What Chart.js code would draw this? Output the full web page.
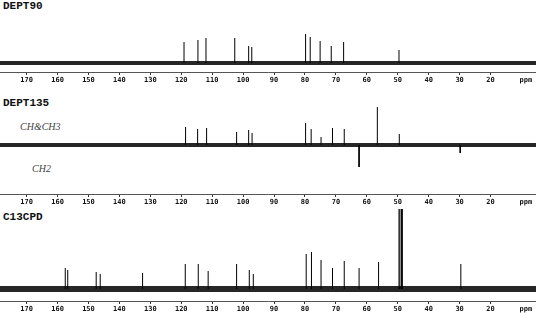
<!DOCTYPE html>
<html>
<head>
<meta charset="utf-8">
<script src="https://cdn.jsdelivr.net/npm/chart.js@4"></script>
<style>
  body { margin: 0; width: 536px; height: 315px; overflow: hidden; background: #fff; position: relative; }
  canvas { position: absolute; left: 0; }
  .title { position: absolute; left: 3px; font: bold 11px/11px "Liberation Mono", monospace; color: #111; }
  .lab { position: absolute; font: italic 10px/10px "Liberation Serif", serif; color: #444; }
</style>
</head>
<body>
<div class="title" style="top:1px">DEPT90</div>
<div class="title" style="top:98px">DEPT135</div>
<div class="lab" style="left:20px;top:122px">CH&amp;CH3</div>
<div class="lab" style="left:32px;top:164px">CH2</div>
<div class="title" style="top:212px">C13CPD</div>

<canvas id="c1" width="536" height="88" style="top:0px"></canvas>
<canvas id="c2" width="536" height="120" style="top:90px"></canvas>
<canvas id="c3" width="536" height="112" style="top:205px"></canvas>

<script>
// chemical shift (ppm) and peak height
const dept90Shift = [119.1, 114.6, 112.0, 102.7, 98.2, 97.2, 79.8, 78.3, 75.1, 71.5, 67.5, 49.6];
const dept90Height = [21, 23, 25, 25, 17, 16, 29, 26, 22, 17, 21, 13];

const dept135Shift = [118.6, 114.7, 111.8, 102.1, 98.2, 97.1, 79.8, 78.0, 74.8, 71.1, 67.3, 62.5, 56.6, 49.5, 29.8];
const dept135Height = [18, 16, 17, 13, 15, 12, 22, 16, 8, 17, 16, -22, 38, 11, -8];

const cpdShift = [157.5, 156.7, 147.5, 146.2, 132.5, 118.7, 114.5, 111.3, 102.1, 98.0, 96.7,
                  79.6, 77.9, 74.8, 71.1, 67.3, 62.5, 56.2, 49.6, 49.3, 48.8, 48.5, 29.6];
const cpdHeight = [21, 19, 17, 15, 16, 25, 25, 18, 25, 19, 15,
                   35, 37, 29, 21, 28, 21, 27, 80, 80, 80, 80, 25];

const tickValues = [170, 160, 150, 140, 130, 120, 110, 100, 90, 80, 70, 60, 50, 40, 30, 20];
const ppmTick = 8.6;   // where the "ppm" unit label sits
const xMax = 178.6;
const xMin = 5.3;

function spectrum(id, shifts, heights, yMin, yMax, band) {
    const spikes = [];
    shifts.forEach((s, i) => {
        spikes.push({ x: s, y: 0 }, { x: s, y: heights[i] }, { x: s, y: null });
    });

    new Chart(document.getElementById(id), {
        type: "line",
        data: {
            datasets: [
                { data: spikes, borderColor: "#000", borderWidth: 1, pointRadius: 0, spanGaps: false },
                { data: [{ x: xMax, y: 0 }, { x: xMin, y: 0 }], borderColor: "#262626", borderWidth: band, pointRadius: 0 }
            ]
        },
        options: {
            responsive: false,
            animation: false,
            layout: { padding: 0 },
            plugins: { legend: { display: false }, tooltip: { enabled: false } },
            scales: {
                x: {
                    type: "linear",
                    reverse: true,
                    min: xMin,
                    max: xMax,
                    afterBuildTicks: axis => {
                        axis.ticks = tickValues.concat([ppmTick]).map(v => ({ value: v }));
                    },
                    afterFit: axis => {
                        axis.height = 16;
                        axis.paddingLeft = 0;
                        axis.paddingRight = 0;
                    },
                    ticks: {
                        autoSkip: false,
                        maxRotation: 0,
                        padding: 1,
                        color: "#111",
                        font: { family: "DejaVu Sans Mono", size: 7, weight: "bold" },
                        callback: v => (v < 10 ? "ppm" : v)
                    },
                    grid: {
                        drawOnChartArea: false,
                        tickLength: 3,
                        tickColor: c => (c.tick && c.tick.value < 10 ? "rgba(0,0,0,0)" : "#333")
                    },
                    border: { color: "#555", width: 1, dash: [2, 1] }
                },
                y: { display: false, min: yMin, max: yMax }
            }
        }
    });
}

spectrum("c1", dept90Shift, dept90Height, -9, 63, 4);
spectrum("c2", dept135Shift, dept135Height, -49, 55, 4);
spectrum("c3", cpdShift, cpdHeight, -12, 84, 6);
</script>
</body>
</html>
